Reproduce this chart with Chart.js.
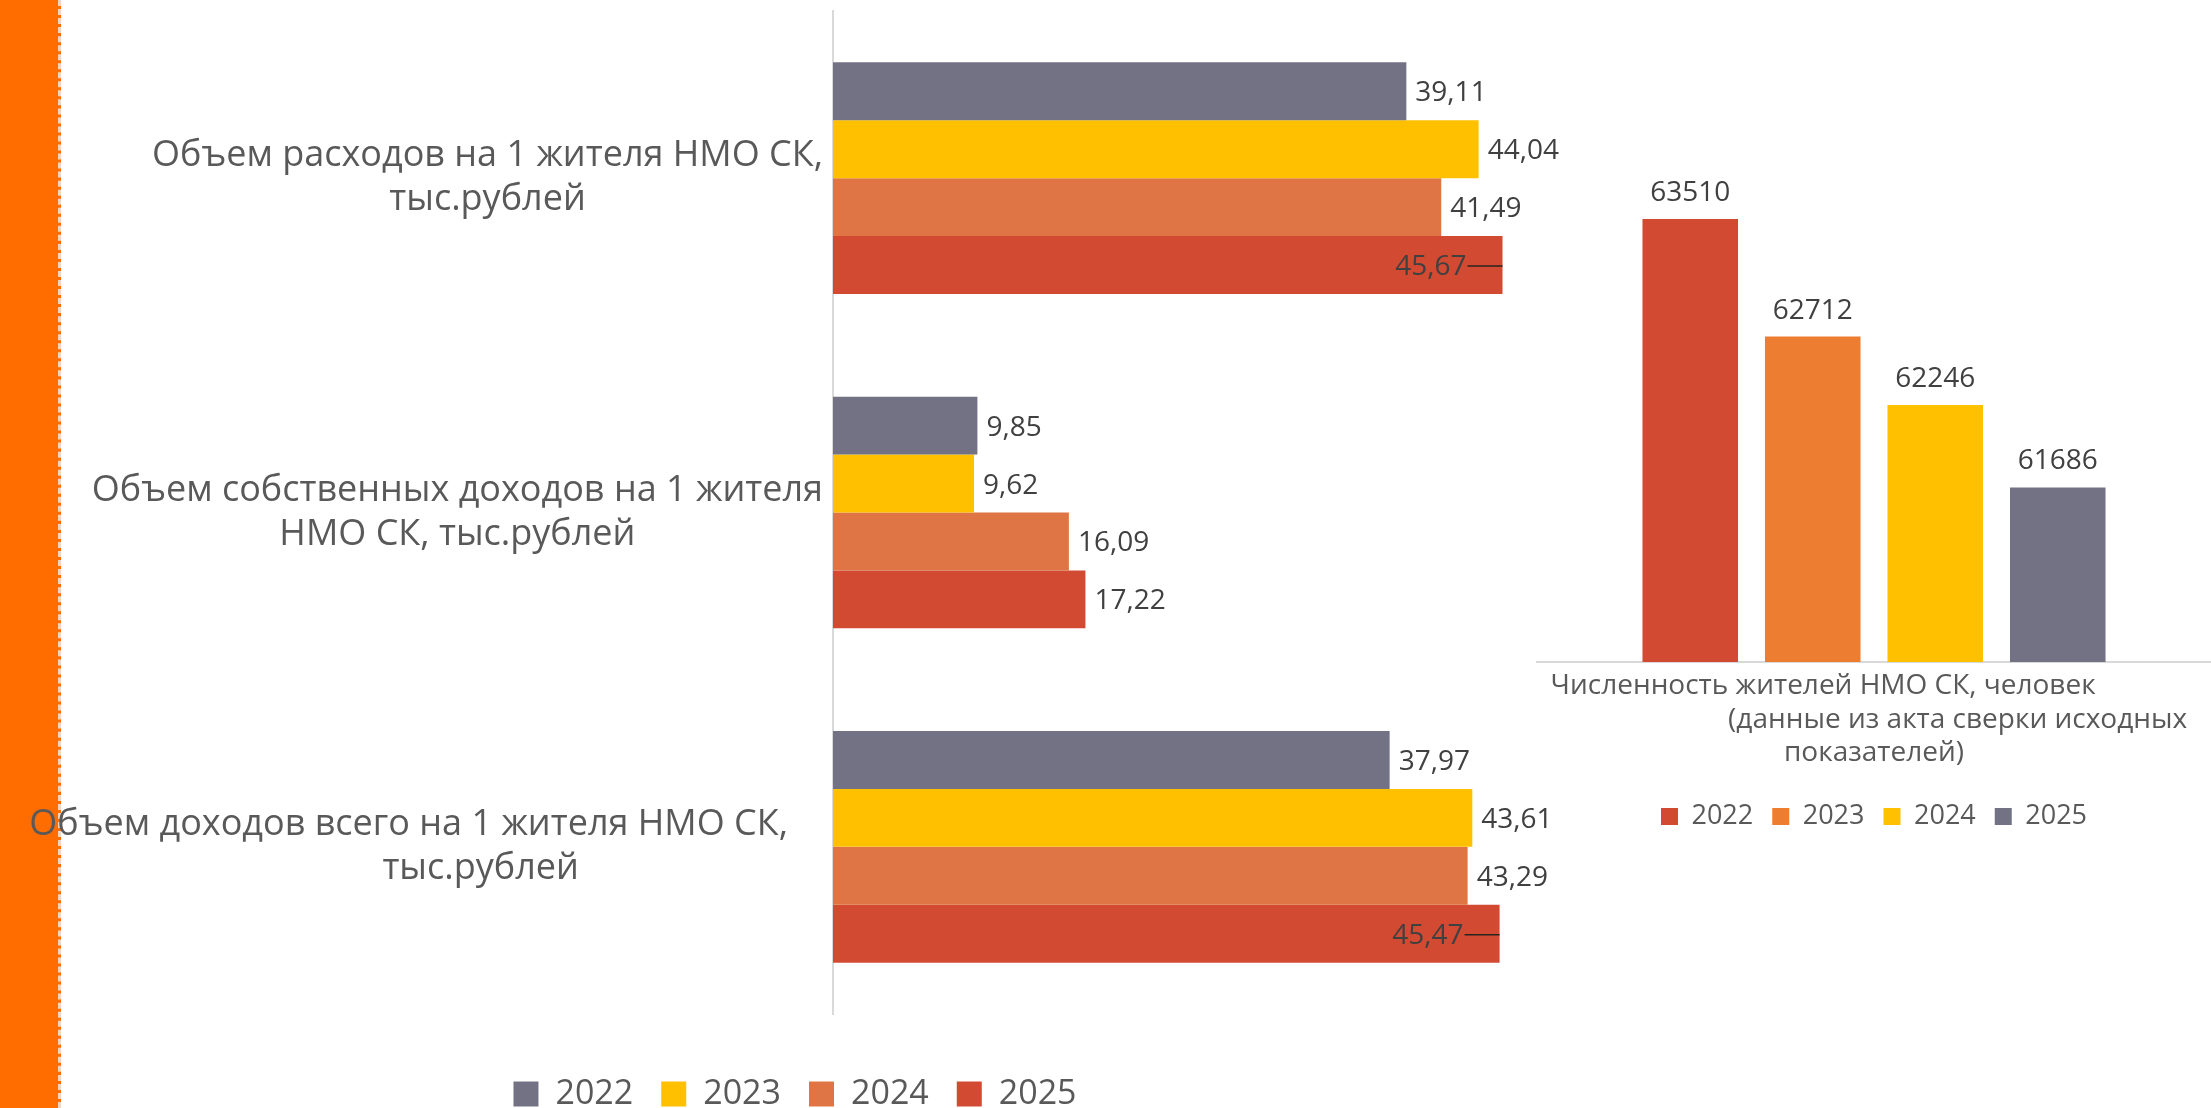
<!DOCTYPE html>
<html><head><meta charset="utf-8">
<script src="https://cdn.jsdelivr.net/npm/chart.js@4.4.1/dist/chart.umd.min.js"></script>
<style>
html,body{margin:0;padding:0;background:#fff;width:2211px;height:1108px;overflow:hidden;position:relative}
#strip{position:absolute;left:0;top:0;width:58px;height:1108px;background:#FF6D00;border-right:3px dashed rgba(240,232,225,0.85)}
#left{position:absolute;left:0;top:0}
#right{position:absolute;left:1500px;top:0}
</style></head><body>
<div id="strip"></div>
<canvas id="left" width="1566" height="1121"></canvas>
<canvas id="right" width="711" height="840"></canvas>
<script>
// ---- data ----
const categories = [
  ["Объем расходов на 1 жителя НМО СК,", "тыс.рублей"],
  ["Объем собственных доходов на 1 жителя", "НМО СК, тыс.рублей"],
  ["Объем доходов всего на 1 жителя НМО СК,", "тыс.рублей"]
];
const years = ["2022", "2023", "2024", "2025"];
const values2022 = [39.11, 9.85, 37.97];
const values2023 = [44.04, 9.62, 43.61];
const values2024 = [41.49, 16.09, 43.29];
const values2025 = [45.67, 17.22, 45.47];

const populationCategory = [
  "Численность жителей НМО СК, человек              ",
  "                       (данные из акта сверки исходных",
  "показателей)"
];
const populationYears = ["2022", "2023", "2024", "2025"];
const population = [63510, 62712, 62246, 61686];

// ---- styles ----
const FONT = '"Open Sans", "Noto Sans", sans-serif';
const leftColors = ['#737284', '#FFC000', '#DF7544', '#D34A33'];
const rightColors = ['#D34A33', '#ED7D31', '#FFC000', '#737284'];
const leaderLabels = [{d: 3, i: 0}, {d: 3, i: 2}];
const labelNudges = [[0, 0], [0, 0], [-35, 37]];
const fmt = v => v.toFixed(2).replace('.', ',');

const leftLabelsPlugin = {
  id: 'leftLabels',
  afterDatasetsDraw(chart) {
    const ctx = chart.ctx;
    const ya = chart.scales.y;
    const area = chart.chartArea;
    ctx.save();
    // category labels
    ctx.font = '36px ' + FONT;
    ctx.fillStyle = '#595959';
    ctx.textAlign = 'center';
    ctx.textBaseline = 'middle';
    chart.data.labels.forEach((lines, i) => {
      const yc = ya.getPixelForValue(i);
      const w = Math.max(...lines.map(l => ctx.measureText(l).width));
      const cx = area.left - 10 - w / 2;
      lines.forEach((l, j) => {
        const nudge = (labelNudges[i] && labelNudges[i][j]) || 0;
        ctx.fillText(l, cx + nudge, yc + (j - (lines.length - 1) / 2) * 44);
      });
    });
    // value labels
    ctx.font = '28px ' + FONT;
    ctx.fillStyle = '#404040';
    ctx.textBaseline = 'alphabetic';
    chart.data.datasets.forEach((ds, d) => {
      const meta = chart.getDatasetMeta(d);
      meta.data.forEach((bar, i) => {
        const txt = fmt(ds.data[i]);
        const yb = bar.y + 10;
        if (leaderLabels.some(o => o.d === d && o.i === i)) {
          ctx.textAlign = 'right';
          ctx.fillText(txt, bar.x - 36, yb);
          ctx.strokeStyle = '#2b2320';
          ctx.lineWidth = 1.6;
          ctx.beginPath();
          ctx.moveTo(bar.x - 35, bar.y + 1);
          ctx.lineTo(bar.x, bar.y + 1);
          ctx.stroke();
        } else {
          ctx.textAlign = 'left';
          ctx.fillText(txt, bar.x + 9, yb);
        }
      });
    });
    ctx.restore();
  }
};

const rightLabelsPlugin = {
  id: 'rightLabels',
  afterDatasetsDraw(chart) {
    const ctx = chart.ctx;
    ctx.save();
    ctx.font = '28px ' + FONT;
    ctx.fillStyle = '#404040';
    ctx.textAlign = 'center';
    ctx.textBaseline = 'alphabetic';
    chart.data.datasets.forEach((ds, d) => {
      const meta = chart.getDatasetMeta(d);
      meta.data.forEach((bar, i) => {
        ctx.fillText(String(ds.data[i]), bar.x, bar.y - 18);
      });
    });
    ctx.restore();
  }
};

function build() {
  const leftSeries = [values2022, values2023, values2024, values2025];
  new Chart(document.getElementById('left'), {
    type: 'bar',
    data: {
      labels: categories,
      datasets: years.map((y, k) => ({
        label: y, data: leftSeries[k], backgroundColor: leftColors[k],
        borderWidth: 0, categoryPercentage: 0.693, barPercentage: 1
      }))
    },
    options: {
      indexAxis: 'y', responsive: false, animation: false,
      layout: {padding: {top: 11, right: 0, left: 24, bottom: 0}},
      scales: {
        x: {min: 0, max: 50, display: true, grid: {display: false}, border: {display: false},
            ticks: {display: false}, afterFit(s) { s.height = 35; }},
        y: {grid: {display: false}, border: {display: true, color: '#D9D9D9', width: 2},
            ticks: {display: false}, afterFit(s) { s.width = 809; }}
      },
      plugins: {
        legend: {position: 'bottom',
          labels: {boxWidth: 25, boxHeight: 25, padding: 28, color: '#595959', font: {family: FONT, size: 34}}},
        tooltip: {enabled: false}
      }
    },
    plugins: [leftLabelsPlugin]
  });

  new Chart(document.getElementById('right'), {
    type: 'bar',
    data: {
      labels: [populationCategory],
      datasets: populationYears.map((y, k) => ({
        label: y, data: [population[k]], backgroundColor: rightColors[k],
        borderWidth: 0, categoryPercentage: 0.727, barPercentage: 0.78
      }))
    },
    options: {
      responsive: false, animation: false,
      layout: {padding: {top: 147, right: 0, left: 37, bottom: 0}},
      scales: {
        x: {grid: {display: false}, border: {display: true, color: '#D9D9D9', width: 2},
            ticks: {color: '#595959', font: {family: FONT, size: 28, lineHeight: 1.18}, padding: 0,
                    maxRotation: 0, minRotation: 0, autoSkip: false},
            afterFit(s) { s.height = 122; }},
        y: {min: 60500, max: 64000, display: false}
      },
      plugins: {
        legend: {position: 'bottom',
          labels: {boxWidth: 17, boxHeight: 17, padding: 19, color: '#595959', font: {family: FONT, size: 27}}},
        tooltip: {enabled: false}
      }
    },
    plugins: [rightLabelsPlugin]
  });
}

Promise.all([
  document.fonts.load('36px "Open Sans"'),
  document.fonts.load('28px "Open Sans"')
]).then(build, build);
</script>
</body></html>
